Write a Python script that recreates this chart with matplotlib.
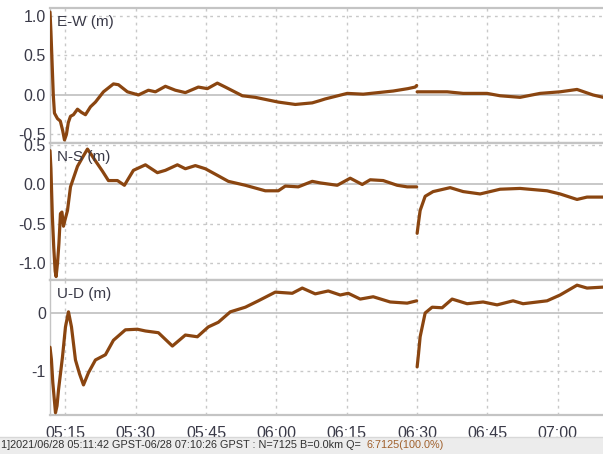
import matplotlib
matplotlib.use("Agg")
import matplotlib.pyplot as plt
from matplotlib.patches import Rectangle

# Solution time series, time in minutes after 05:00 GPST.
# Each component has a segment before and after the 06:30 re-initialisation.
ew_t1 = [11.70, 11.90, 12.15, 12.40, 12.65, 13.30, 13.90, 14.40, 14.79, 15.20, 15.60,
         16.07, 16.70, 17.56, 18.40, 19.26, 20.33, 21.39, 23.10, 25.23, 26.29, 28.21,
         30.56, 32.69, 34.18, 36.31, 38.44, 40.57, 43.34, 45.26, 47.39, 49.09, 52.72,
         55.49, 60.39, 64.01, 67.63, 69.34, 70.40, 75.09, 78.50, 84.89, 88.00, 89.58, 89.90]
ew_v1 = [1.05, 0.80, 0.40, 0.00, -0.23, -0.30, -0.33, -0.45, -0.57, -0.50, -0.35,
         -0.27, -0.25, -0.18, -0.22, -0.25, -0.15, -0.09, 0.04, 0.14, 0.13, 0.04,
         0.00, 0.06, 0.04, 0.11, 0.06, 0.03, 0.10, 0.08, 0.15, 0.10, -0.01,
         -0.03, -0.09, -0.12, -0.10, -0.07, -0.05, 0.02, 0.01, 0.05, 0.08, 0.10, 0.12]
ew_t2 = [90.00, 96.40, 99.81, 104.92, 107.69, 111.95, 116.21, 120.48, 124.10, 127.51, 130.43]
ew_v2 = [0.04, 0.04, 0.02, 0.02, -0.01, -0.03, 0.02, 0.04, 0.07, 0.00, -0.04]

ns_t1 = [11.70, 11.90, 12.20, 12.50, 12.80, 13.00, 13.30, 13.60, 13.93, 14.25, 14.57,
         14.90, 15.43, 16.07, 17.56, 18.70, 19.69, 20.50, 21.39, 22.88, 24.16, 26.08,
         27.57, 29.49, 32.05, 34.60, 36.31, 38.87, 40.57, 42.70, 44.83, 47.60, 49.73,
         53.36, 57.62, 60.39, 61.88, 64.65, 67.63, 69.34, 72.96, 75.73, 78.29, 79.99,
         82.76, 85.74, 87.87, 89.90]
ns_v1 = [0.43, 0.20, -0.40, -0.80, -1.10, -1.17, -1.00, -0.75, -0.37, -0.35, -0.53,
         -0.45, -0.33, -0.03, 0.23, 0.35, 0.45, 0.38, 0.30, 0.17, 0.05, 0.05,
         -0.01, 0.18, 0.25, 0.15, 0.18, 0.25, 0.20, 0.24, 0.20, 0.11, 0.04,
         -0.01, -0.08, -0.08, -0.02, -0.03, 0.04, 0.02, -0.01, 0.08, 0.00, 0.06,
         0.05, -0.01, -0.03, -0.03]
ns_t2 = [90.00, 90.30, 90.64, 91.71, 93.41, 97.04, 99.81, 103.43, 107.69, 111.95,
         117.71, 120.48, 124.10, 126.23, 130.43]
ns_v2 = [-0.62, -0.48, -0.33, -0.15, -0.09, -0.04, -0.09, -0.12, -0.06, -0.05,
         -0.08, -0.12, -0.19, -0.16, -0.16]

ud_t1 = [11.70, 12.00, 12.30, 12.87, 13.20, 13.51, 14.36, 15.00, 15.64, 16.28, 17.13,
         18.00, 18.84, 19.90, 21.39, 23.52, 25.23, 27.78, 30.34, 32.05, 34.82, 37.80,
         40.57, 43.13, 45.47, 47.60, 50.16, 53.36, 56.13, 59.75, 63.37, 65.50, 68.27,
         71.04, 73.60, 75.30, 77.86, 80.63, 84.25, 87.87, 89.90]
ud_v1 = [-0.59, -0.80, -1.20, -1.72, -1.60, -1.33, -0.76, -0.24, 0.02, -0.24, -0.81,
         -1.05, -1.24, -1.03, -0.81, -0.72, -0.47, -0.29, -0.28, -0.31, -0.34, -0.57,
         -0.38, -0.41, -0.24, -0.16, 0.02, 0.10, 0.21, 0.36, 0.34, 0.43, 0.33,
         0.38, 0.31, 0.34, 0.24, 0.28, 0.19, 0.17, 0.21]
ud_t2 = [90.00, 90.30, 90.64, 91.71, 93.20, 95.33, 97.46, 100.66, 104.07, 107.05,
         110.46, 112.59, 117.71, 120.48, 124.10, 126.23, 130.43]
ud_v2 = [-0.93, -0.70, -0.41, 0.00, 0.10, 0.09, 0.24, 0.16, 0.19, 0.14,
         0.21, 0.16, 0.21, 0.31, 0.48, 0.43, 0.45]

panel_titles = ["E-W (m)", "N-S (m)", "U-D (m)"]
ew_ticks = [1.0, 0.5, 0.0, -0.5]
ns_ticks = [0.5, 0.0, -0.5, -1.0]
ud_ticks = [0, -1]
time_ticks = [15, 30, 45, 60, 75, 90, 105, 120]
time_labels = ["05:15", "05:30", "05:45", "06:00", "06:15", "06:30", "06:45", "07:00"]
status_text = "1]2021/06/28 05:11:42 GPST-06/28 07:10:26 GPST : N=7125 B=0.0km Q=  "
status_q = "6:7125(100.0%)"

W, H = 603, 454
LINE = "#8a4510"
GRID = "#c8c8c8"
FRAME = "#c4c4c4"
TXT = "#3a3a48"
plt.rcParams["font.family"] = ["Liberation Sans", "DejaVu Sans"]

fig = plt.figure(figsize=(W / 100, H / 100), dpi=100)
fig.patch.set_facecolor("white")

left_px, right_px = 50, 603
rows = [(8, 143), (143, 280), (280, 415)]
ylims = [(-0.608, 1.101), (-1.213, 0.527), (-1.759, 0.569)]
series = [(ew_t1, ew_v1, ew_t2, ew_v2, ew_ticks, "{:.1f}"),
          (ns_t1, ns_v1, ns_t2, ns_v2, ns_ticks, "{:.1f}"),
          (ud_t1, ud_v1, ud_t2, ud_v2, ud_ticks, "{:d}")]

xmin = 11.70
xmax = 15 + (right_px - 65) / 4.693

axes = []
for i, ((top, bot), ylim, (t1, v1, t2, v2, yt, fmt)) in enumerate(zip(rows, ylims, series)):
    ax = fig.add_axes([left_px / W, (H - bot) / H, (right_px - left_px) / W, (bot - top) / H])
    axes.append(ax)
    ax.set_xlim(xmin, xmax)
    ax.set_ylim(*ylim)
    # grid: dotted, with a solid zero line
    for x in time_ticks:
        ax.axvline(x, color=GRID, lw=1.0, ls=(0, (2, 3)), zorder=1)
    for y in yt:
        if y == 0:
            ax.axhline(y, color=FRAME, lw=1.3, zorder=1)
        else:
            ax.axhline(y, color=GRID, lw=1.0, ls=(0, (2, 3)), zorder=1)
    ax.plot(t1, v1, color=LINE, lw=2.3, solid_joinstyle="round", solid_capstyle="round", zorder=3)
    ax.plot(t2, v2, color=LINE, lw=2.3, solid_joinstyle="round", solid_capstyle="round", zorder=3)
    ax.set_yticks(yt)
    ax.set_yticklabels([fmt.format(v) for v in yt])
    ax.set_xticks(time_ticks)
    if i == 2:
        ax.set_xticklabels(time_labels)
    else:
        ax.set_xticklabels([])
    ax.tick_params(axis="both", length=0, labelsize=11.5, colors=TXT, pad=3)
    ax.tick_params(axis="x", pad=8)
    for s in ["top", "bottom"]:
        ax.spines[s].set_color(FRAME)
        ax.spines[s].set_linewidth(1.6)
    ax.spines["left"].set_color(FRAME)
    ax.spines["left"].set_linewidth(1.0)
    ax.spines["right"].set_visible(False)
    ax.text(7 / (right_px - left_px), 0.95, panel_titles[i], transform=ax.transAxes,
            ha="left", va="top", fontsize=11, color=TXT, zorder=4)

# status bar
bar_h = (H - 437) / H
fig.patches.append(Rectangle((0, 0), 1, bar_h, transform=fig.transFigure,
                             facecolor="#ececec", edgecolor="none", zorder=0))
fig.add_artist(plt.Line2D([0, 1], [bar_h, bar_h], transform=fig.transFigure,
                          color="#d8d8d8", lw=1))
t = fig.text(1 / W, (H - 445.5) / H, status_text, ha="left", va="center",
             fontsize=7.8, color="#303030")
fig.canvas.draw()
bb = t.get_window_extent()
fig.text(bb.x1 / W, (H - 445.5) / H, status_q, ha="left", va="center",
         fontsize=7.8, color="#a0602c")

fig.savefig("out.png", dpi=100)
